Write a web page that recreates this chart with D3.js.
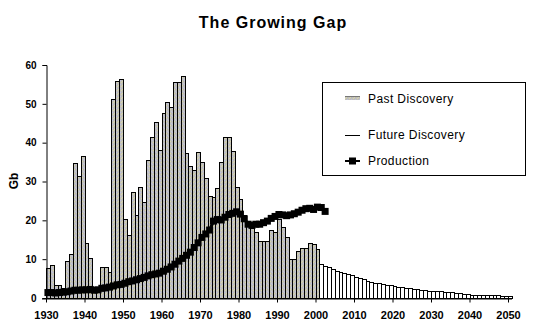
<!DOCTYPE html>
<html>
<head>
    <meta charset="utf-8">
    <title>The Growing Gap</title>
    <script src="https://d3js.org/d3.v7.min.js"></script>
    <style>
        body { margin: 0; background: #fff; }
        svg text { font-family: "Liberation Sans", Arial, sans-serif; }
        .tick-label { font-weight: bold; }
    </style>
</head>
<body>
    <div id="chart"></div>

    <script>
        // data
        const pastStart = 1930;
        const pastDiscovery = [
            7.7, 8.5, 3.3, 3.3, 2.5, 9.5, 11.3, 34.7, 31.4, 36.6,
            14.2, 10.2, 2.5, 2.0, 7.9, 7.9, 6.6, 51.2, 56.0, 56.5,
            20.3, 16.2, 27.4, 21.4, 28.5, 24.8, 35.5, 41.4, 45.2, 38.1,
            47.6, 50.4, 49.3, 55.5, 55.5, 57.2, 37.3, 34.0, 33.0, 37.5,
            35.1, 30.8, 26.3, 25.9, 28.2, 35.1, 41.4, 41.4, 37.9, 28.5,
            25.4, 21.5, 19.3, 18.0, 17.1, 14.8, 14.7, 14.7, 17.4, 17.1,
            20.3, 18.2, 15.6, 10.0, 10.0, 12.1, 12.8, 12.8, 14.1, 13.8,
            12.6
        ];
        const futureStart = 2001;
        const futureDiscovery = [
            8.7, 8.3, 7.9, 7.4, 7.0, 6.8, 6.4, 6.1, 5.8, 5.3,
            5.1, 4.8, 4.5, 4.2, 3.9, 3.8, 3.5, 3.4, 3.3, 3.1,
            2.9, 2.8, 2.7, 2.5, 2.3, 2.2, 2.1, 2.0, 1.9, 1.8,
            1.8, 1.7, 1.6, 1.5, 1.5, 1.4, 1.3, 1.1, 1.0, 0.9,
            0.8, 0.8, 0.7, 0.7, 0.7, 0.7, 0.7, 0.6, 0.6, 0.5
        ];
        const prodStart = 1930;
        const production = [
            1.4, 1.4, 1.3, 1.4, 1.5, 1.6, 1.8, 2.0, 2.0, 2.1,
            2.1, 2.2, 2.0, 2.1, 2.5, 2.6, 2.8, 3.1, 3.4, 3.5,
            3.8, 4.2, 4.4, 4.7, 5.0, 5.3, 5.7, 6.0, 6.2, 6.4,
            6.9, 7.4, 8.0, 8.7, 9.5, 10.2, 11.0, 11.8, 13.0, 14.2,
            15.6, 16.5, 17.5, 19.8, 20.2, 20.1, 20.8, 21.5, 21.8, 22.2,
            21.6, 20.4, 19.0, 18.7, 19.0, 19.0, 19.4, 19.8, 20.5, 21.0,
            21.5, 21.4, 21.2, 21.4, 21.7, 22.1, 22.6, 23.0, 23.1, 22.8,
            23.4, 23.3, 22.3
        ];
        const yTicks = [0, 10, 20, 30, 40, 50, 60];
        const xTicks = [1930, 1940, 1950, 1960, 1970, 1980, 1990, 2000, 2010, 2020, 2030, 2040, 2050];
        const legendLabels = ["Past Discovery", "Future Discovery", "Production"];

        const pastData = pastDiscovery.map((v, i) => ({year: pastStart + i, value: v}));
        const futureData = futureDiscovery.map((v, i) => ({year: futureStart + i, value: v}));
        const prodData = production.map((v, i) => ({year: prodStart + i, value: v}));

        const W = 545, H = 334;
        const svg = d3.select("#chart").append("svg")
            .attr("width", W)
            .attr("height", H);

        // dithered gray fill like the original
        const defs = svg.append("defs");
        const pat = defs.append("pattern")
            .attr("id", "dither")
            .attr("patternUnits", "userSpaceOnUse")
            .attr("width", 4).attr("height", 4);
        pat.append("rect").attr("width", 4).attr("height", 4).attr("fill", "#c0c0bc");
        [[0, 0, "#c0c0dc"], [2, 1, "#d8d4a8"], [1, 2, "#d8d4a8"], [3, 3, "#c0c0dc"], [3, 1, "#b8b8b8"]]
            .forEach(p => pat.append("rect")
                .attr("x", p[0]).attr("y", p[1])
                .attr("width", 1).attr("height", 1)
                .attr("fill", p[2]));

        const x = d3.scaleLinear().domain([1930, 2051]).range([46, 511.85]);
        const y = d3.scaleLinear().domain([0, 60]).range([298, 65]);
        const bw = x(1931) - x(1930);

        // title
        svg.append("text")
            .attr("x", 273).attr("y", 27.5)
            .attr("text-anchor", "middle")
            .style("font-size", "16px")
            .style("font-weight", "bold")
            .style("letter-spacing", "1px")
            .text("The Growing Gap");

        // past discovery bars
        svg.append("g").selectAll("rect")
            .data(pastData)
            .enter().append("rect")
            .attr("x", d => Math.round(x(d.year)) + 0.5)
            .attr("y", d => Math.round(y(d.value)) + 0.5)
            .attr("width", d => Math.round(x(d.year + 1)) - Math.round(x(d.year)))
            .attr("height", d => Math.round(y(0)) - Math.round(y(d.value)))
            .attr("fill", "url(#dither)")
            .attr("stroke", "#000")
            .attr("stroke-width", 1);

        // future discovery bars
        svg.append("g").selectAll("rect")
            .data(futureData)
            .enter().append("rect")
            .attr("x", d => Math.round(x(d.year)) + 0.5)
            .attr("y", d => Math.round(y(d.value)) + 0.5)
            .attr("width", d => Math.round(x(d.year + 1)) - Math.round(x(d.year)))
            .attr("height", d => Math.round(y(0)) - Math.round(y(d.value)))
            .attr("fill", "#fff")
            .attr("stroke", "#000")
            .attr("stroke-width", 1);

        // axes
        const yAxis = svg.append("g").attr("transform", "translate(46.5,0)")
            .call(d3.axisLeft(y).tickValues(yTicks).tickSize(4).tickPadding(6).tickFormat(d3.format("d")));
        const xAxis = svg.append("g").attr("transform", "translate(0,298.5)")
            .call(d3.axisBottom(x).tickValues(xTicks).tickSize(4).tickPadding(9).tickFormat(d3.format("d")));
        [yAxis, xAxis].forEach(a => {
            a.select(".domain").attr("stroke", "#000");
            a.selectAll(".tick line").attr("stroke", "#000");
            a.selectAll(".tick text")
                .attr("class", "tick-label")
                .attr("fill", "#000")
                .style("font-family", '"Liberation Sans", Arial, sans-serif');
        });
        yAxis.selectAll(".tick text").style("font-size", "10px");
        xAxis.selectAll(".tick text").style("font-size", "11px");
        xAxis.select(".domain").attr("d", "M42,0.5H512");

        svg.append("text")
            .attr("transform", "translate(18,181) rotate(-90)")
            .attr("text-anchor", "middle")
            .style("font-size", "12px")
            .style("font-weight", "bold")
            .text("Gb");

        // production line
        const line = d3.line()
            .x(d => x(d.year) + bw / 2)
            .y(d => y(d.value));
        svg.append("path")
            .datum(prodData)
            .attr("d", line)
            .attr("fill", "none")
            .attr("stroke", "#000")
            .attr("stroke-width", 3);
        svg.append("g").selectAll("rect")
            .data(prodData)
            .enter().append("rect")
            .attr("x", d => x(d.year) + bw / 2 - 3.5)
            .attr("y", d => y(d.value) - 3.5)
            .attr("width", 7).attr("height", 7)
            .attr("fill", "#000");

        // legend
        const legend = svg.append("g");
        legend.append("rect")
            .attr("x", 322.5).attr("y", 82.5)
            .attr("width", 203).attr("height", 93)
            .attr("fill", "#fff")
            .attr("stroke", "#000");
        const rows = [103, 139, 165];
        legendLabels.forEach((label, i) => {
            legend.append("text")
                .attr("x", 368).attr("y", rows[i])
                .style("font-size", "12px")
                .style("letter-spacing", "0.4px")
                .text(label);
        });
        legend.append("rect")
            .attr("x", 345).attr("y", 96)
            .attr("width", 15).attr("height", 4)
            .attr("fill", "url(#dither)");
        legend.append("line")
            .attr("x1", 345).attr("x2", 360).attr("y1", 96.5).attr("y2", 96.5)
            .attr("stroke", "#777");
        legend.append("line")
            .attr("x1", 345).attr("x2", 360).attr("y1", 135.5).attr("y2", 135.5)
            .attr("stroke", "#000");
        legend.append("line")
            .attr("x1", 345).attr("x2", 360).attr("y1", 161).attr("y2", 161)
            .attr("stroke", "#000").attr("stroke-width", 2);
        legend.append("rect")
            .attr("x", 349).attr("y", 157.5)
            .attr("width", 7).attr("height", 7)
            .attr("fill", "#000");
    </script>
</body>
</html>
